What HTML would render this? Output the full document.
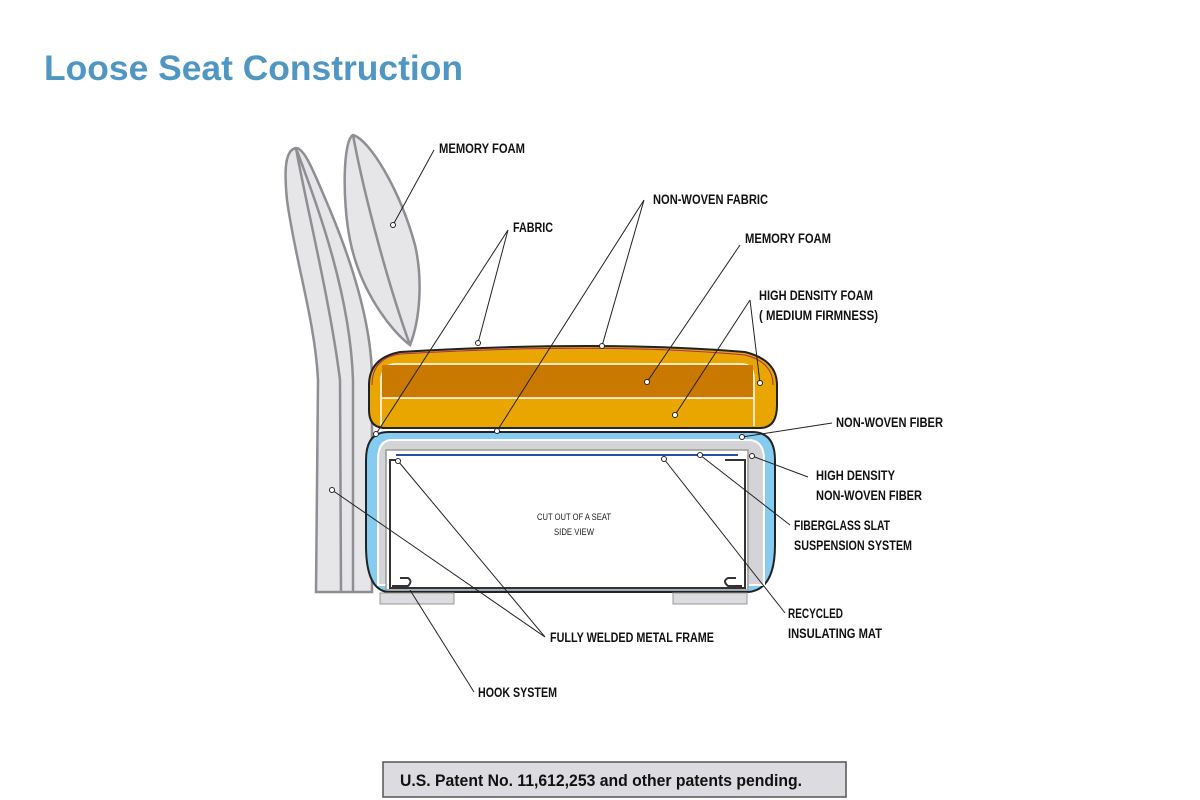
<!DOCTYPE html>
<html><head><meta charset="utf-8"><style>
html,body{margin:0;padding:0;background:#fff;width:1200px;height:800px;overflow:hidden}
svg{display:block}
.l{font-family:"Liberation Sans",sans-serif;font-weight:bold;font-size:13.5px;fill:#111}
.ln{stroke:#222;stroke-width:1;fill:none}
.d{fill:#fff;stroke:#222;stroke-width:1}
</style></head><body>
<svg width="1200" height="800" viewBox="0 0 1200 800">
<text x="44" y="80" textLength="419" lengthAdjust="spacingAndGlyphs" font-family="Liberation Sans,sans-serif" font-weight="bold" font-size="35" fill="#4f97c2">Loose Seat Construction</text>

<!-- back panel -->
<path d="M296,148 C285,150 284,170 287,200 C295,260 315,320 318,380 L316,592 L372,592 L372,380 C372,330 355,270 330,210 C315,175 305,148 296,148 Z" fill="#e6e6e9" stroke="#8e8e93" stroke-width="2.5"/>
<path d="M296,148 C305,200 330,300 340,380 L341,592" fill="none" stroke="#8e8e93" stroke-width="2.5"/>
<path d="M296,148 C315,200 350,290 353,380 L353,592" fill="none" stroke="#8e8e93" stroke-width="2.5"/>
<!-- leaf -->
<path d="M353,135 C343,140 342,200 350,240 C360,290 390,330 410,345 C420,320 423,280 415,245 C400,190 370,140 353,135 Z" fill="#e6e6e9" stroke="#8e8e93" stroke-width="2.5"/>
<path d="M353,135 C365,200 390,290 410,345" fill="none" stroke="#8e8e93" stroke-width="2.5"/>

<!-- base -->
<path d="M388,432 L752,432 Q775,432 775,460 L775,545 Q775,590 748,592 L390,592 Q366,592 366,545 L366,460 Q366,432 388,432 Z" fill="#86cbf0" stroke="#222" stroke-width="2"/>
<path d="M392,440 L748,440 Q764,440 764,460 L764,585 L378,585 L378,460 Q378,440 392,440 Z" fill="#d3d3d8" stroke="#fff" stroke-width="2"/>
<rect x="386" y="450" width="362" height="140" fill="#fff" stroke="#999" stroke-width="1.5"/>
<line x1="396" y1="455" x2="738" y2="455" stroke="#2a4fa8" stroke-width="2"/>
<path d="M398,460 L390,460 L390,588 L745,588 L745,460 L725,460" fill="none" stroke="#333" stroke-width="2"/>
<path d="M392,586 L408,586 Q413,581 408,578 L400,578" fill="none" stroke="#333" stroke-width="2"/>
<path d="M742,586 L728,586 Q722,581 728,578 L736,578" fill="none" stroke="#333" stroke-width="2"/>
<rect x="380" y="593" width="74" height="11" fill="#dcdce0" stroke="#999"/>
<rect x="673" y="593" width="74" height="11" fill="#dcdce0" stroke="#999"/>
<text x="537" y="520" textLength="74" lengthAdjust="spacingAndGlyphs" font-family="Liberation Sans,sans-serif" font-size="9.5" fill="#222">CUT OUT OF A SEAT</text>
<text x="554" y="535" textLength="40" lengthAdjust="spacingAndGlyphs" font-family="Liberation Sans,sans-serif" font-size="9.5" fill="#222">SIDE VIEW</text>

<!-- cushion -->
<path d="M385,428 L760,428 Q777,428 777,405 L777,385 Q777,360 745,352 Q600,340 400,352 Q369,358 369,385 L369,410 Q369,428 385,428 Z" fill="#e9a500" stroke="#222" stroke-width="2"/>
<path d="M381,426 L381,378 Q383,364 395,364 L742,364 Q754,364 754,378 L754,426" fill="none" stroke="#fff" stroke-width="1.5"/>
<rect x="382" y="365" width="371" height="33" fill="#c97800"/>
<line x1="381" y1="398" x2="754" y2="398" stroke="#fff" stroke-width="1.5"/>
<path d="M372,385 Q372,358 400,354 Q600,342 745,355 Q773,362 773,385" fill="none" stroke="#a0306a" stroke-width="1"/>

<!-- leader lines -->
<g class="ln">
<path d="M393,225 L434,150"/>
<path d="M478,343 L508,230 M376,434 L508,230"/>
<path d="M497,431 L644,200 M602,346 L644,200"/>
<path d="M647,382 L740,245"/>
<path d="M675,415 L750,300 M760,383 L750,300"/>
<path d="M742,437 L832,423"/>
<path d="M752,456 L808,477"/>
<path d="M700,455 L790,525"/>
<path d="M664,459 L785,613"/>
<path d="M398,461 L545,637 M332,490 L545,637"/>
<path d="M410,590 L474,692"/>
</g>
<g class="d">
<circle cx="393" cy="225" r="2.5"/><circle cx="478" cy="343" r="2.5"/><circle cx="376" cy="434" r="2.5"/>
<circle cx="497" cy="431" r="2.5"/><circle cx="602" cy="346" r="2.5"/><circle cx="647" cy="382" r="2.5"/>
<circle cx="675" cy="415" r="2.5"/><circle cx="760" cy="383" r="2.5"/><circle cx="742" cy="437" r="2.5"/>
<circle cx="752" cy="456" r="2.5"/><circle cx="700" cy="455" r="2.5"/><circle cx="664" cy="459" r="2.5"/>
<circle cx="398" cy="461" r="2.5"/><circle cx="332" cy="490" r="2.5"/>
</g>

<g class="l">
<text x="439" y="153" textLength="86" lengthAdjust="spacingAndGlyphs">MEMORY FOAM</text>
<text x="513" y="232" textLength="40" lengthAdjust="spacingAndGlyphs">FABRIC</text>
<text x="653" y="204" textLength="115" lengthAdjust="spacingAndGlyphs">NON-WOVEN FABRIC</text>
<text x="745" y="243" textLength="86" lengthAdjust="spacingAndGlyphs">MEMORY FOAM</text>
<text x="759" y="300" textLength="114" lengthAdjust="spacingAndGlyphs">HIGH DENSITY FOAM</text>
<text x="759" y="320" textLength="119" lengthAdjust="spacingAndGlyphs">( MEDIUM FIRMNESS)</text>
<text x="836" y="427" textLength="107" lengthAdjust="spacingAndGlyphs">NON-WOVEN FIBER</text>
<text x="816" y="480" textLength="79" lengthAdjust="spacingAndGlyphs">HIGH DENSITY</text>
<text x="816" y="500" textLength="106" lengthAdjust="spacingAndGlyphs">NON-WOVEN FIBER</text>
<text x="794" y="530" textLength="96" lengthAdjust="spacingAndGlyphs">FIBERGLASS SLAT</text>
<text x="794" y="550" textLength="118" lengthAdjust="spacingAndGlyphs">SUSPENSION SYSTEM</text>
<text x="788" y="618" textLength="55" lengthAdjust="spacingAndGlyphs">RECYCLED</text>
<text x="788" y="638" textLength="94" lengthAdjust="spacingAndGlyphs">INSULATING MAT</text>
<text x="550" y="642" textLength="164" lengthAdjust="spacingAndGlyphs">FULLY WELDED METAL FRAME</text>
<text x="478" y="697" textLength="79" lengthAdjust="spacingAndGlyphs">HOOK SYSTEM</text>
</g>

<rect x="383" y="762" width="463" height="35" fill="#dcdce0" stroke="#555" stroke-width="1.5"/>
<text x="400" y="786" textLength="402" lengthAdjust="spacingAndGlyphs" font-family="Liberation Sans,sans-serif" font-weight="bold" font-size="16.5" fill="#111">U.S. Patent No. 11,612,253 and other patents pending.</text>
</svg>
</body></html>
